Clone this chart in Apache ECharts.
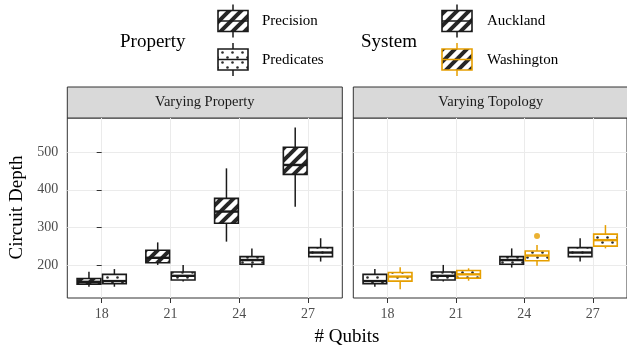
<!DOCTYPE html>
<html>
<head>
<meta charset="utf-8">
<script src="https://cdn.jsdelivr.net/npm/echarts@6/dist/echarts.min.js"></script>
<style>
  html, body { margin: 0; padding: 0; background: #fff; }
  #chart { width: 627px; height: 347px; }
</style>
</head>
<body>
<div id="chart"></div>
<script>
// Qubit counts on the x axis and the labelled depth ticks
const qubits = ['18', '21', '24', '27'];
const depthTicks = [200, 300, 400, 500];

// Circuit depth summaries per qubit count: [min, Q1, median, Q3, max]
const precisionDepth = [
  [142, 149, 155, 164, 182],
  [200, 206, 219, 239, 260],
  [262, 311, 342, 377, 457],
  [355, 441, 466, 513, 566]
];
const predicatesDepth = [
  [142, 150, 157, 175, 189],
  [156, 160, 171, 181, 200],
  [193, 202, 213, 222, 244],
  [209, 222, 233, 246, 271]
];
const aucklandDepth = [
  [142, 150, 157, 175, 189],
  [156, 160, 171, 181, 200],
  [193, 202, 213, 222, 244],
  [209, 222, 233, 246, 271]
];
const washingtonDepth = [
  [135, 157, 169, 180, 194],
  [158, 165, 175, 185, 191],
  [198, 211, 225, 237, 253],
  [244, 250, 266, 282, 306]
];
// Outliers: [qubit index, depth]
const washingtonOutliers = [[2, 277]];

const panelTitles = ['Varying Property', 'Varying Topology'];
const propertyNames = ['Precision', 'Predicates'];
const systemNames = ['Auckland', 'Washington'];

const SERIF = '"Liberation Serif", "DejaVu Serif", serif';
const INK = '#1a1a1a';
const ORANGE = '#E69F00';
const GRID_LINE = '#EBEBEB';
const DODGE = 0.185;   // half the dodge distance, in category units
const BOX_W = 0.345;   // box width, in category units

// Fill patterns drawn on small tiles
function hatchTile() {
  const s = 12;
  const c = document.createElement('canvas');
  c.width = s; c.height = s;
  const g = c.getContext('2d');
  g.fillStyle = '#fff';
  g.fillRect(0, 0, s, s);
  g.strokeStyle = '#262626';
  g.lineWidth = 4;
  for (let k = -1; k <= 1; k++) {
    g.beginPath();
    g.moveTo(k * s - 2, s + 2);
    g.lineTo(k * s + s + 2, -2);
    g.stroke();
  }
  return { image: c, repeat: 'repeat' };
}
function dotTile() {
  const s = 10;
  const c = document.createElement('canvas');
  c.width = s; c.height = s;
  const g = c.getContext('2d');
  g.fillStyle = '#fff';
  g.fillRect(0, 0, s, s);
  g.fillStyle = '#2b2b2b';
  [[2.5, 2.5], [7.5, 7.5]].forEach(([x, y]) => {
    g.beginPath();
    g.arc(x, y, 1.3, 0, Math.PI * 2);
    g.fill();
  });
  return { image: c, repeat: 'repeat' };
}
const HATCH = hatchTile();
const DOTS = dotTile();

function boxItem(fill, stroke) {
  return function (params, api) {
    const x = api.value(0);
    const at = k => api.coord([x, api.value(k)]);
    const lo = at(1), q1 = at(2), md = at(3), q3 = at(4), hi = at(5);
    const w = api.size([BOX_W, 0])[0];
    const cx = lo[0];
    const left = cx - w / 2;
    return {
      type: 'group',
      children: [
        { type: 'line', shape: { x1: cx, y1: hi[1], x2: cx, y2: q3[1] }, style: { stroke, lineWidth: 1.5 } },
        { type: 'line', shape: { x1: cx, y1: q1[1], x2: cx, y2: lo[1] }, style: { stroke, lineWidth: 1.5 } },
        { type: 'rect', shape: { x: left, y: q3[1], width: w, height: q1[1] - q3[1] }, style: { fill, stroke, lineWidth: 1.6 } },
        { type: 'line', shape: { x1: left, y1: md[1], x2: left + w, y2: md[1] }, style: { stroke, lineWidth: 2.4 } }
      ]
    };
  };
}

function boxSeries(name, rows, offset, axis, fill, stroke) {
  return {
    type: 'custom',
    name,
    xAxisIndex: axis,
    yAxisIndex: axis,
    encode: { x: 0, y: [1, 2, 3, 4, 5] },
    data: rows.map((r, i) => [i + offset].concat(r)),
    renderItem: boxItem(fill, stroke),
    z: 3
  };
}

const PANEL = [
  { left: 67.3, top: 118, width: 275, height: 180 },
  { left: 353.3, top: 118, width: 275, height: 180 }
];

function xAxisFor(i) {
  return {
    type: 'value', gridIndex: i, min: -0.5, max: 3.5, interval: 0.5,
    axisLine: { show: false },
    axisTick: { show: true, customValues: [0, 1, 2, 3], length: 5, lineStyle: { color: '#333', width: 1 } },
    axisLabel: {
      customValues: [0, 1, 2, 3], margin: 9,
      formatter: v => qubits[Math.round(v)] || '',
      color: '#4D4D4D', fontFamily: SERIF, fontSize: 14
    },
    splitLine: { show: true, lineStyle: { color: GRID_LINE, width: 1 } }
  };
}
function yAxisFor(i) {
  return {
    type: 'value', gridIndex: i, min: 112, max: 591, interval: 50,
    axisLine: { show: false },
    axisTick: { show: i === 0, customValues: depthTicks, length: 5, lineStyle: { color: '#333', width: 1 } },
    axisLabel: {
      show: i === 0, customValues: depthTicks, margin: 9,
      color: '#4D4D4D', fontFamily: SERIF, fontSize: 14
    },
    splitLine: { show: true, lineStyle: { color: GRID_LINE, width: 1 } }
  };
}

// Strip headers above the panels
const strips = PANEL.map((p, i) => ({
  type: 'group',
  children: [
    { type: 'rect', shape: { x: p.left, y: 87, width: p.width, height: 31 },
      style: { fill: '#D9D9D9', stroke: '#333', lineWidth: 1 } },
    { type: 'text', x: p.left + p.width / 2, y: 102.5,
      style: { text: panelTitles[i], fill: INK, font: '14.5px ' + SERIF, align: 'center', verticalAlign: 'middle' } }
  ]
}));

// Legend keys drawn as small boxplots
function legendKey(x, y, fill, stroke) {
  const w = 30, h = 21, cx = x + w / 2;
  return {
    type: 'group',
    children: [
      { type: 'line', shape: { x1: cx, y1: y - 6, x2: cx, y2: y }, style: { stroke, lineWidth: 1.5 } },
      { type: 'line', shape: { x1: cx, y1: y + h, x2: cx, y2: y + h + 6 }, style: { stroke, lineWidth: 1.5 } },
      { type: 'rect', shape: { x, y, width: w, height: h }, style: { fill, stroke, lineWidth: 1.6 } },
      { type: 'line', shape: { x1: x, y1: y + h / 2, x2: x + w, y2: y + h / 2 }, style: { stroke, lineWidth: 1.5 } }
    ]
  };
}
function legendText(x, y, text, size) {
  return { type: 'text', x, y, style: { text, fill: '#000', font: size + 'px ' + SERIF, verticalAlign: 'middle' } };
}

const legend = [
  legendText(120, 42, 'Property', 19),
  legendKey(218, 10.5, HATCH, INK),
  legendKey(218, 49, DOTS, INK),
  legendText(262, 21, propertyNames[0], 15),
  legendText(262, 60, propertyNames[1], 15),
  legendText(361, 42, 'System', 19),
  legendKey(442, 10.5, HATCH, INK),
  legendKey(442, 49, HATCH, ORANGE),
  legendText(487, 21, systemNames[0], 15),
  legendText(487, 60, systemNames[1], 15)
];

const titles = [
  { type: 'text', x: 347, y: 337, style: { text: '# Qubits', fill: '#000', font: '19px ' + SERIF, align: 'center', verticalAlign: 'middle' } },
  { type: 'text', x: 17, y: 207.5, rotation: Math.PI / 2,
    style: { text: 'Circuit Depth', fill: '#000', font: '19px ' + SERIF, align: 'center', verticalAlign: 'middle' } }
];

const chart = echarts.init(document.getElementById('chart'), null, { renderer: 'canvas' });
chart.setOption({
  animation: false,
  backgroundColor: '#fff',
  grid: PANEL.map(p => Object.assign({ show: true, borderColor: '#333', borderWidth: 1, backgroundColor: '#fff' }, p)),
  xAxis: [xAxisFor(0), xAxisFor(1)],
  yAxis: [yAxisFor(0), yAxisFor(1)],
  series: [
    boxSeries(propertyNames[0], precisionDepth, -DODGE, 0, HATCH, INK),
    boxSeries(propertyNames[1], predicatesDepth, DODGE, 0, DOTS, INK),
    boxSeries(systemNames[0], aucklandDepth, -DODGE, 1, DOTS, INK),
    boxSeries(systemNames[1], washingtonDepth, DODGE, 1, DOTS, ORANGE),
    {
      type: 'scatter', name: systemNames[1] + ' outliers',
      xAxisIndex: 1, yAxisIndex: 1,
      data: washingtonOutliers.map(([i, v]) => [i + DODGE, v]),
      symbol: 'circle', symbolSize: 6,
      itemStyle: { color: ORANGE },
      z: 4
    }
  ],
  graphic: strips.concat(legend, titles)
});
</script>
</body>
</html>
